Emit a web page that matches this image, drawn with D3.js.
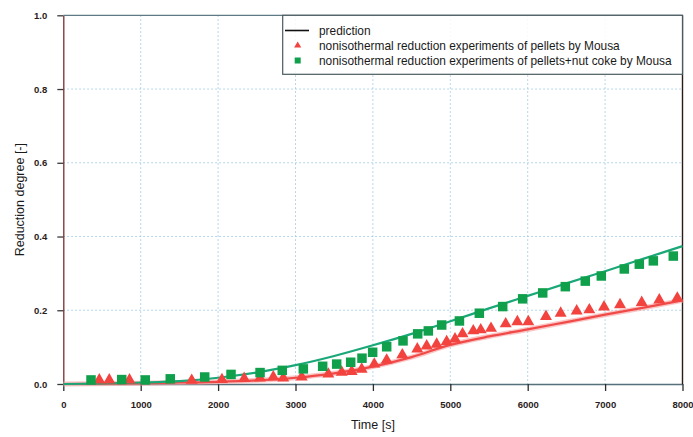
<!DOCTYPE html>
<html>
<head>
<meta charset="utf-8">
<script src="https://cdn.jsdelivr.net/npm/d3@7"></script>
<style>
  body { margin: 0; background: #fff; }
  svg { display: block; font-family: "Liberation Sans", Arial, Helvetica, sans-serif; }
</style>
</head>
<body>
<svg id="chart" width="693" height="437"></svg>
<script>
// Measured series: time [s] and reduction degree [-]
const pelletTime = [465, 594, 855, 1659, 2050, 2337, 2541, 2713, 2842, 3080, 3424, 3597, 3726, 3855,
  4018, 4178, 4380, 4574, 4695, 4824, 4953, 5061, 5158, 5297, 5393, 5526, 5716, 5866, 6008,
  6236, 6426, 6633, 6796, 6986, 7193, 7473, 7700, 7933];
const pelletDegree = [0.011, 0.011, 0.011, 0.010, 0.012, 0.015, 0.016, 0.019, 0.016, 0.019, 0.027, 0.032, 0.034, 0.040,
  0.054, 0.065, 0.079, 0.095, 0.103, 0.108, 0.115, 0.122, 0.136, 0.144, 0.147, 0.151, 0.163, 0.169, 0.169,
  0.183, 0.192, 0.198, 0.201, 0.209, 0.215, 0.221, 0.228, 0.233];

const cokeTime = [358, 755, 1059, 1382, 1827, 2167, 2542, 2829, 3101, 3351, 3532, 3713, 3859,
  3997, 4178, 4389, 4579, 4716, 4889, 5118, 5375, 5677, 5935, 6194, 6486, 6744, 6951, 7248, 7442, 7623, 7881];
const cokeDegree = [0.011, 0.012, 0.011, 0.014, 0.019, 0.026, 0.031, 0.037, 0.041, 0.048, 0.054, 0.059, 0.070,
  0.086, 0.101, 0.117, 0.136, 0.144, 0.160, 0.171, 0.192, 0.210, 0.231, 0.247, 0.264, 0.279, 0.293, 0.312, 0.325, 0.334, 0.347];

// Model predictions
const predTime = [0, 1000, 1500, 2000, 2500, 3000, 3500, 4000, 4500, 5000, 5500, 6000, 6500, 7000, 7500, 8000];
const predPellet = [0, 0.002, 0.004, 0.006, 0.010, 0.017, 0.029, 0.047, 0.073, 0.106, 0.129, 0.148, 0.168, 0.188, 0.207, 0.227];
const predCoke = [0, 0.004, 0.008, 0.017, 0.031, 0.051, 0.076, 0.105, 0.136, 0.170, 0.205, 0.239, 0.273, 0.306, 0.340, 0.374];

const xTicks = [0, 1000, 2000, 3000, 4000, 5000, 6000, 7000, 8000];
const yTicks = [0.0, 0.2, 0.4, 0.6, 0.8, 1.0];
const legendLabels = [
  "prediction",
  "nonisothermal reduction experiments of pellets by Mousa",
  "nonisothermal reduction experiments of pellets+nut coke by Mousa"
];

const svg = d3.select("#chart");
const plotLeft = 63.3, plotRight = 682.5, plotTop = 15.3, plotBottom = 384;

const x = d3.scaleLinear().domain([0, 8000]).range([plotLeft, plotRight]);
const y = d3.scaleLinear().domain([0, 1]).range([plotBottom, plotTop]);

const red = "#f2433f", green = "#10a04c", greenLine = "#1aa878";

svg.append("rect").attr("width", 693).attr("height", 437).attr("fill", "#fff");

// dotted grid
const grid = svg.append("g").attr("stroke", "#9fcbe6").attr("stroke-width", 1)
  .attr("stroke-dasharray", "1.5,2.5");
grid.selectAll("line.v").data(xTicks.slice(1, -1)).join("line").attr("class", "v")
  .attr("x1", d => x(d)).attr("x2", d => x(d)).attr("y1", plotTop).attr("y2", plotBottom);
grid.selectAll("line.h").data(yTicks.slice(1, -1)).join("line").attr("class", "h")
  .attr("y1", d => y(d)).attr("y2", d => y(d)).attr("x1", plotLeft).attr("x2", plotRight);

// axes
const xAxis = d3.axisBottom(x).tickValues(xTicks).tickFormat(d3.format("d")).tickSize(7).tickSizeOuter(0);
const yAxis = d3.axisLeft(y).tickValues(yTicks).tickFormat(d3.format(".1f")).tickSize(6).tickSizeOuter(0);

const gx = svg.append("g").attr("transform", `translate(0,${plotBottom})`).call(xAxis);
gx.select(".domain").attr("stroke", "#56707c").attr("stroke-width", 1.3);
gx.selectAll(".tick line").attr("stroke", "#2c2c2c").attr("stroke-width", 1.3);
gx.selectAll(".tick text").attr("y", 17).attr("font-size", 9.5).attr("font-weight", "bold")
  .attr("fill", "#2a1c1c").attr("font-family", "Liberation Sans, Arial, sans-serif");

const gy = svg.append("g").attr("transform", `translate(${plotLeft},0)`).call(yAxis);
gy.select(".domain").attr("stroke", "#7a2e2e").attr("stroke-width", 1.3);
gy.selectAll(".tick line").attr("stroke", "#3a3a3a").attr("stroke-width", 1.3);
gy.selectAll(".tick text").attr("x", -16).attr("font-size", 9.5).attr("font-weight", "bold")
  .attr("fill", "#2a1c1c").attr("font-family", "Liberation Sans, Arial, sans-serif");

// top and right frame
svg.append("line").attr("x1", plotLeft).attr("x2", plotRight).attr("y1", plotTop).attr("y2", plotTop)
  .attr("stroke", "#5f7a84").attr("stroke-width", 1.2);
svg.append("line").attr("x1", plotRight).attr("x2", plotRight).attr("y1", plotTop).attr("y2", plotBottom)
  .attr("stroke", "#2a1a1a").attr("stroke-width", 1.4);

// prediction curves
const line = (vals) => d3.line().x((d, i) => x(predTime[i])).y(d => y(d)).curve(d3.curveMonotoneX)(vals);
svg.append("path").attr("d", line(predPellet)).attr("fill", "none")
  .attr("stroke", "#f7a0a0").attr("stroke-width", 5).attr("opacity", 0.6);
svg.append("path").attr("d", line(predPellet)).attr("fill", "none")
  .attr("stroke", "#f04a48").attr("stroke-width", 2.2);
svg.append("path").attr("d", line(predCoke)).attr("fill", "none")
  .attr("stroke", greenLine).attr("stroke-width", 2.2);

// experimental points
const tri = d3.symbol().type(d3.symbolTriangle).size(62);
svg.append("g").selectAll("path").data(pelletTime).join("path")
  .attr("d", tri)
  .attr("transform", (d, i) => `translate(${x(d)},${y(pelletDegree[i])})`)
  .attr("fill", red);

const sq = 9.5;
svg.append("g").selectAll("rect").data(cokeTime).join("rect")
  .attr("x", d => x(d) - sq / 2)
  .attr("y", (d, i) => y(cokeDegree[i]) - sq / 2)
  .attr("width", sq).attr("height", sq)
  .attr("fill", green);

// legend
const lg = svg.append("g");
lg.append("rect").attr("x", 282.7).attr("y", plotTop).attr("width", plotRight - 282.7).attr("height", 59)
  .attr("fill", "#fff").attr("fill-opacity", 0.85)
  .attr("stroke", "#4a5a60").attr("stroke-width", 1.2);
const rows = [30.5, 45.5, 60.5];
lg.append("line").attr("x1", 285).attr("x2", 309).attr("y1", rows[0]).attr("y2", rows[0])
  .attr("stroke", "#111").attr("stroke-width", 1.6);
lg.append("path").attr("d", d3.symbol().type(d3.symbolTriangle).size(22))
  .attr("transform", `translate(297.7,${rows[1]})`).attr("fill", red);
lg.append("rect").attr("x", 294.7).attr("y", rows[2] - 3).attr("width", 6).attr("height", 6).attr("fill", green);
lg.selectAll("text").data(legendLabels).join("text")
  .attr("x", 319).attr("y", (d, i) => rows[i]).attr("dy", "0.35em")
  .attr("font-size", 11.9).attr("fill", "#1a1a1a").text(d => d);

// axis titles
svg.append("text").attr("x", (plotLeft + plotRight) / 2).attr("y", 429).attr("text-anchor", "middle")
  .attr("font-size", 12.5).attr("fill", "#1a1a1a").text("Time [s]");
svg.append("text").attr("transform", `translate(24,${(plotTop + plotBottom) / 2}) rotate(-90)`)
  .attr("text-anchor", "middle").attr("font-size", 12.5).attr("fill", "#1a1a1a")
  .text("Reduction degree [-]");
</script>
</body>
</html>
